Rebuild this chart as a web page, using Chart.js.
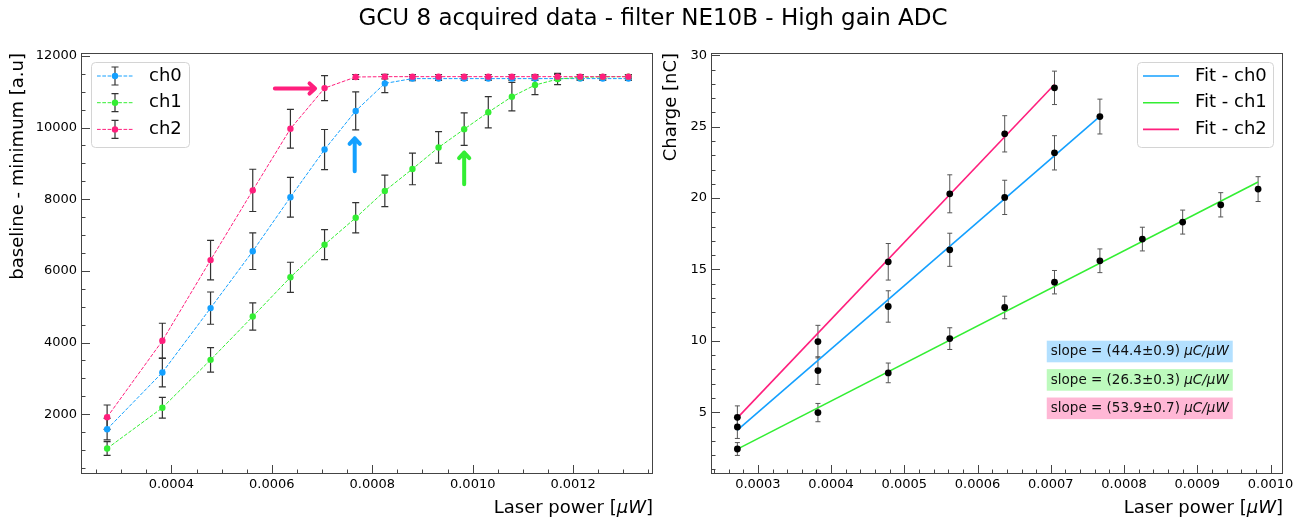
<!DOCTYPE html>
<html>
<head>
<meta charset="utf-8">
<title>GCU 8 acquired data - filter NE10B - High gain ADC</title>
<script src="https://cdn.jsdelivr.net/npm/chart.js@4.4.0/dist/chart.umd.min.js"></script>
<style>
	html, body { margin: 0; padding: 0; background: #fff; }
	#wrap { position: relative; width: 1306px; height: 522px; }
	#wrap canvas { position: absolute; left: 0; top: 0; }
</style>
</head>
<body>
<div id="wrap">
	<canvas id="adc" width="1306" height="522"></canvas>
	<canvas id="charge" width="1306" height="522"></canvas>
</div>
<script>
// laser power [uW], shared by both panels
var power = [0.000272, 0.000382, 0.000478, 0.000562, 0.000637, 0.000705, 0.000767, 0.000825, 0.000880,
	0.000932, 0.000983, 0.001031, 0.001078, 0.001124, 0.001169, 0.001214, 0.001259, 0.001310];

// left panel: baseline - minimum [a.u]
var adcCh0 = [1581, 3163, 4960, 6548, 8056, 9385, 10463, 11231, 11365, 11365, 11365, 11365, 11365, 11365, 11365, 11365, 11365, 11365];
var adcCh0Err = [300, 400, 450, 510, 555, 560, 530, 255, 60, 50, 50, 50, 50, 50, 50, 50, 50, 50];
var adcCh1 = [1042, 2177, 3516, 4726, 5820, 6731, 7481, 8231, 8843, 9444, 9954, 10426, 10861, 11185, 11352, 11400, 11415, 11420];
var adcCh1Err = [190, 290, 340, 380, 420, 417, 421, 440, 440, 440, 454, 435, 398, 264, 157, 70, 50, 50];
var adcCh2 = [1916, 4047, 6300, 8246, 9965, 11100, 11410, 11420, 11420, 11420, 11420, 11420, 11420, 11420, 11420, 11420, 11420, 11420];
var adcCh2Err = [340, 490, 550, 590, 540, 350, 70, 60, 60, 60, 60, 60, 60, 60, 60, 60, 60, 60];

// right panel: charge [nC] in the linear range
var chargeCh0 = [3.97, 7.92, 12.41, 16.38, 20.05, 23.17, 25.71];
var chargeCh0Err = [0.8, 0.97, 1.1, 1.16, 1.2, 1.2, 1.22];
var chargeCh1 = [2.43, 4.98, 7.76, 10.16, 12.34, 14.11, 15.61, 17.13, 18.32, 19.53, 20.63];
var chargeCh1Err = [0.45, 0.64, 0.69, 0.76, 0.79, 0.82, 0.83, 0.83, 0.84, 0.85, 0.87];
var chargeCh2 = [4.65, 9.95, 15.54, 20.30, 24.50, 27.72];
var chargeCh2Err = [0.8, 1.14, 1.28, 1.33, 1.27, 1.17];

// linear fits (slope in uC/uW, intercept in nC)
var channels = ['ch0', 'ch1', 'ch2'];
var fitSlope = [44.4, 26.3, 53.9];
var fitSlopeErr = [0.9, 0.3, 0.7];
var fitIntercept = [-8.33, -4.73, -10.05];

// tick labels
var adcTicksX = [0.0004, 0.0006, 0.0008, 0.0010, 0.0012];
var adcTicksY = [2000, 4000, 6000, 8000, 10000, 12000];
var chargeTicksX = [0.0003, 0.0004, 0.0005, 0.0006, 0.0007, 0.0008, 0.0009, 0.0010];
var chargeTicksY = [5, 10, 15, 20, 25, 30];

// arrows on the left panel [x0, y0, x1, y1] in data units
var arrowPink = [0.000606, 11090, 0.000686, 11090];
var arrowBlue = [0.000765, 8780, 0.000765, 9700];
var arrowGreen = [0.000983, 8420, 0.000983, 9300];

(function () {
	'use strict';

	var FONT = '"DejaVu Sans", sans-serif';
	var colors = ['#14a0ff', '#33ee33', '#ff1f7d'];
	var tints = ['rgba(20,160,255,0.32)', 'rgba(51,238,51,0.32)', 'rgba(255,31,125,0.32)'];

	Chart.defaults.font.family = FONT;
	Chart.defaults.color = '#000';

	function points(xs, ys) {
		return ys.map(function (y, i) { return { x: xs[i], y: y }; });
	}

	function fixedTicks(values) {
		return function (scale) {
			scale.ticks = values.map(function (v) { return { value: v }; });
		};
	}

	function setFont(ctx, size, italic) {
		ctx.font = (italic ? 'italic ' : '') + size + 'px ' + FONT;
	}

	// draws a run of roman / italic pieces, returns its width
	function textRun(ctx, parts, x, y, size, align) {
		var widths = parts.map(function (p) {
			setFont(ctx, size, p.italic);
			return ctx.measureText(p.text).width;
		});
		var total = widths.reduce(function (a, b) { return a + b; }, 0);
		var cx = align === 'right' ? x - total : x;
		ctx.textAlign = 'left';
		parts.forEach(function (p, i) {
			setFont(ctx, size, p.italic);
			ctx.fillText(p.text, cx, y);
			cx += widths[i];
		});
		return total;
	}

	function drawAxisTicks(ctx, scale, ca, horizontal, minorPerMajor) {
		var majors = scale.ticks.map(function (t) { return t.value; });
		var step = (majors[1] - majors[0]) / minorPerMajor;
		var k0 = Math.ceil((scale.min - majors[0]) / step - 1e-6);
		var k1 = Math.floor((scale.max - majors[0]) / step + 1e-6);

		ctx.save();
		ctx.strokeStyle = '#444';
		ctx.lineWidth = 1;
		ctx.beginPath();
		for (var k = k0; k <= k1; k++) {
			var len = (k % minorPerMajor === 0) ? 9 : 4.5;
			var p = Math.round(scale.getPixelForValue(majors[0] + k * step)) + 0.5;
			if (horizontal) {
				ctx.moveTo(p, ca.bottom);
				ctx.lineTo(p, ca.bottom - len);
			} else {
				ctx.moveTo(ca.left, p);
				ctx.lineTo(ca.left + len, p);
			}
		}
		ctx.stroke();
		ctx.restore();
	}

	function drawErrorBar(ctx, x, y0, y1, cap) {
		ctx.moveTo(x, y0);
		ctx.lineTo(x, y1);
		ctx.moveTo(x - cap, y0);
		ctx.lineTo(x + cap, y0);
		ctx.moveTo(x - cap, y1);
		ctx.lineTo(x + cap, y1);
	}

	function drawArrow(ctx, sx, sy, a, color) {
		var x0 = sx.getPixelForValue(a[0]), y0 = sy.getPixelForValue(a[1]);
		var x1 = sx.getPixelForValue(a[2]), y1 = sy.getPixelForValue(a[3]);
		var ang = Math.atan2(y1 - y0, x1 - x0), head = 7.5, spread = 0.75;

		ctx.save();
		ctx.strokeStyle = color;
		ctx.lineWidth = 4;
		ctx.lineCap = 'round';
		ctx.lineJoin = 'round';
		ctx.beginPath();
		ctx.moveTo(x0, y0);
		ctx.lineTo(x1, y1);
		ctx.moveTo(x1 - head * Math.cos(ang - spread), y1 - head * Math.sin(ang - spread));
		ctx.lineTo(x1, y1);
		ctx.lineTo(x1 - head * Math.cos(ang + spread), y1 - head * Math.sin(ang + spread));
		ctx.stroke();
		ctx.restore();
	}

	function drawLegend(ctx, ca, cfg) {
		var box = cfg.box, left = box.right ? ca.right - box.right - box.w : ca.left + box.left;
		var top = ca.top + box.top;

		ctx.save();
		ctx.fillStyle = 'rgba(255,255,255,0.85)';
		ctx.strokeStyle = '#d4d4d4';
		ctx.lineWidth = 1;
		ctx.beginPath();
		ctx.roundRect(left + 0.5, top + 0.5, box.w, box.h, 4);
		ctx.fill();
		ctx.stroke();

		cfg.labels.forEach(function (label, i) {
			var y = top + 14 + i * 26.7, x0 = left + 6, x1 = left + 42, xm = (x0 + x1) / 2;
			ctx.strokeStyle = colors[i];
			if (cfg.kind === 'errorbar') {
				ctx.lineWidth = 1;
				ctx.setLineDash([3.7, 1.6]);
				ctx.beginPath();
				ctx.moveTo(x0, y);
				ctx.lineTo(x1, y);
				ctx.stroke();
				ctx.setLineDash([]);
				ctx.strokeStyle = '#333';
				ctx.lineWidth = 1.2;
				ctx.beginPath();
				drawErrorBar(ctx, xm, y - 9, y + 9, 3.5);
				ctx.stroke();
				ctx.fillStyle = colors[i];
				ctx.beginPath();
				ctx.arc(xm, y, 3.2, 0, Math.PI * 2);
				ctx.fill();
			} else {
				ctx.lineWidth = 1.6;
				ctx.beginPath();
				ctx.moveTo(x0, y);
				ctx.lineTo(x1, y);
				ctx.stroke();
			}
			ctx.fillStyle = '#000';
			ctx.textBaseline = 'middle';
			textRun(ctx, [{ text: label }], left + cfg.textOffset, y, 18, 'left');
		});
		ctx.restore();
	}

	function HepDecor(cfg) {
		this.id = 'hepDecor';

		this.beforeDatasetsDraw = function (chart) {
			var ctx = chart.ctx, ca = chart.chartArea, sx = chart.scales.x, sy = chart.scales.y;
			ctx.save();
			ctx.beginPath();
			ctx.rect(ca.left, ca.top, ca.right - ca.left, ca.bottom - ca.top);
			ctx.clip();
			ctx.strokeStyle = cfg.errorColor;
			ctx.lineWidth = cfg.errorWidth;
			chart.data.datasets.forEach(function (ds) {
				if (!ds.errors) {
					return;
				}
				ctx.beginPath();
				ds.data.forEach(function (p, i) {
					drawErrorBar(ctx, sx.getPixelForValue(p.x),
						sy.getPixelForValue(p.y - ds.errors[i]),
						sy.getPixelForValue(p.y + ds.errors[i]), cfg.cap);
				});
				ctx.stroke();
			});
			ctx.restore();
		};

		this.afterDraw = function (chart) {
			var ctx = chart.ctx, ca = chart.chartArea, sx = chart.scales.x, sy = chart.scales.y;

			drawAxisTicks(ctx, sx, ca, true, cfg.minorX);
			drawAxisTicks(ctx, sy, ca, false, cfg.minorY);

			ctx.save();
			ctx.strokeStyle = '#444';
			ctx.lineWidth = 1;
			ctx.strokeRect(ca.left + 0.5, ca.top + 0.5, ca.right - ca.left - 1, ca.bottom - ca.top - 1);
			ctx.restore();

			(cfg.arrows || []).forEach(function (a) {
				drawArrow(ctx, sx, sy, a.at, a.color);
			});

			drawLegend(ctx, ca, cfg.legend);

			(cfg.boxes || []).forEach(function (b, i) {
				var bx = ca.left + 0.587 * (ca.right - ca.left);
				var by = ca.top + (0.709 + 0.0675 * i) * (ca.bottom - ca.top);
				var parts = [{ text: b.text }, { text: '\u03bcC/\u03bcW', italic: true }];
				ctx.save();
				ctx.textBaseline = 'middle';
				ctx.globalAlpha = 0;
				var w = textRun(ctx, parts, 0, 0, 13.5, 'left');
				ctx.globalAlpha = 1;
				ctx.fillStyle = b.fill;
				ctx.fillRect(bx, by - 10.8, w + 8, 21.6);
				ctx.fillStyle = '#111';
				textRun(ctx, parts, bx + 4, by + 0.5, 13.5, 'left');
				ctx.restore();
			});

			ctx.save();
			ctx.fillStyle = '#000';
			ctx.textBaseline = 'middle';
			textRun(ctx, [{ text: 'Laser power [' }, { text: '\u03bcW', italic: true }, { text: ']' }],
				ca.right, 508, 18, 'right');
			ctx.translate(cfg.yLabelX, ca.top);
			ctx.rotate(-Math.PI / 2);
			textRun(ctx, [{ text: cfg.yLabel }], 0, 0, 18, 'right');
			ctx.restore();

			if (cfg.title) {
				ctx.save();
				ctx.fillStyle = '#000';
				ctx.textAlign = 'center';
				ctx.textBaseline = 'middle';
				setFont(ctx, 23);
				ctx.fillText(cfg.title, 653, 19);
				ctx.restore();
			}
		};
	}

	function scaleOptions(min, max, ticks, decimals, width, height) {
		return {
			type: 'linear',
			min: min,
			max: max,
			grid: { display: false, drawTicks: false },
			border: { display: false },
			afterBuildTicks: fixedTicks(ticks),
			afterFit: function (s) {
				if (width) { s.width = width; }
				if (height) { s.height = height; }
			},
			ticks: {
				padding: width ? 4 : 3,
				font: { size: 13 },
				color: '#000',
				callback: function (v) { return decimals ? Number(v).toFixed(decimals) : String(v); }
			}
		};
	}

	function baseOptions(padding, xs, ys) {
		return {
			responsive: false,
			animation: false,
			events: [],
			layout: { padding: padding, autoPadding: false },
			plugins: { legend: { display: false }, tooltip: { enabled: false }, title: { display: false } },
			scales: { x: xs, y: ys }
		};
	}

	// left panel: ADC amplitude vs laser power
	var adcSeries = [adcCh0, adcCh1, adcCh2], adcErrors = [adcCh0Err, adcCh1Err, adcCh2Err];
	new Chart(document.getElementById('adc'), {
		type: 'scatter',
		data: {
			datasets: adcSeries.map(function (ys, i) {
				return {
					label: channels[i],
					data: points(power, ys),
					errors: adcErrors[i],
					order: 3 - i,
					showLine: true,
					borderColor: colors[i],
					borderWidth: 1,
					borderDash: [3.7, 1.6],
					backgroundColor: colors[i],
					pointRadius: 3.2,
					pointBorderWidth: 0
				};
			})
		},
		options: baseOptions({ left: 0, top: 53, right: 653, bottom: 0 },
			scaleOptions(0.00022, 0.001359, adcTicksX, 4, 0, 48),
			scaleOptions(330, 12080, adcTicksY, 0, 81, 0)),
		plugins: [new HepDecor({
			errorColor: '#333', errorWidth: 1.2, cap: 3.5,
			minorX: 4, minorY: 4,
			yLabel: 'baseline - minimum [a.u]', yLabelX: 18,
			title: 'GCU 8 acquired data - filter NE10B - High gain ADC',
			legend: { kind: 'errorbar', labels: channels, textOffset: 58, box: { left: 10, top: 9, w: 98, h: 85 } },
			arrows: [
				{ at: arrowPink, color: colors[2] },
				{ at: arrowBlue, color: colors[0] },
				{ at: arrowGreen, color: colors[1] }
			]
		})]
	});

	// right panel: charge vs laser power with linear fits
	var chargeSeries = [chargeCh0, chargeCh1, chargeCh2];
	var chargeErrors = [chargeCh0Err, chargeCh1Err, chargeCh2Err];
	var chargeSets = chargeSeries.map(function (ys, i) {
		return {
			label: channels[i],
			data: points(power, ys),
			errors: chargeErrors[i],
			showLine: false,
			backgroundColor: '#000',
			pointRadius: 3.4,
			pointBorderWidth: 0
		};
	});
	var fitSets = chargeSeries.map(function (ys, i) {
		var ends = [power[0], power[ys.length - 1]];
		return {
			label: 'Fit - ' + channels[i],
			data: ends.map(function (x) { return { x: x, y: fitSlope[i] * x * 1000 + fitIntercept[i] }; }),
			showLine: true,
			borderColor: colors[i],
			borderWidth: 1.6,
			pointRadius: 0
		};
	});

	new Chart(document.getElementById('charge'), {
		type: 'scatter',
		data: { datasets: chargeSets.concat(fitSets) },
		options: baseOptions({ left: 630, top: 53, right: 23, bottom: 0 },
			scaleOptions(0.000236, 0.001017, chargeTicksX, 4, 0, 48),
			scaleOptions(0.68, 30.16, chargeTicksY, 0, 81, 0)),
		plugins: [new HepDecor({
			errorColor: '#555', errorWidth: 1, cap: 2.5,
			minorX: 5, minorY: 5,
			yLabel: 'Charge [nC]', yLabelX: 671,
			legend: { kind: 'line', labels: channels.map(function (c) { return 'Fit - ' + c; }), textOffset: 58, box: { right: 10, top: 9, w: 136, h: 85 } },
			boxes: fitSlope.map(function (s, i) {
				return { text: 'slope = (' + s.toFixed(1) + '\u00b1' + fitSlopeErr[i].toFixed(1) + ') ', fill: tints[i] };
			})
		})]
	});
}());
</script>
</body>
</html>
